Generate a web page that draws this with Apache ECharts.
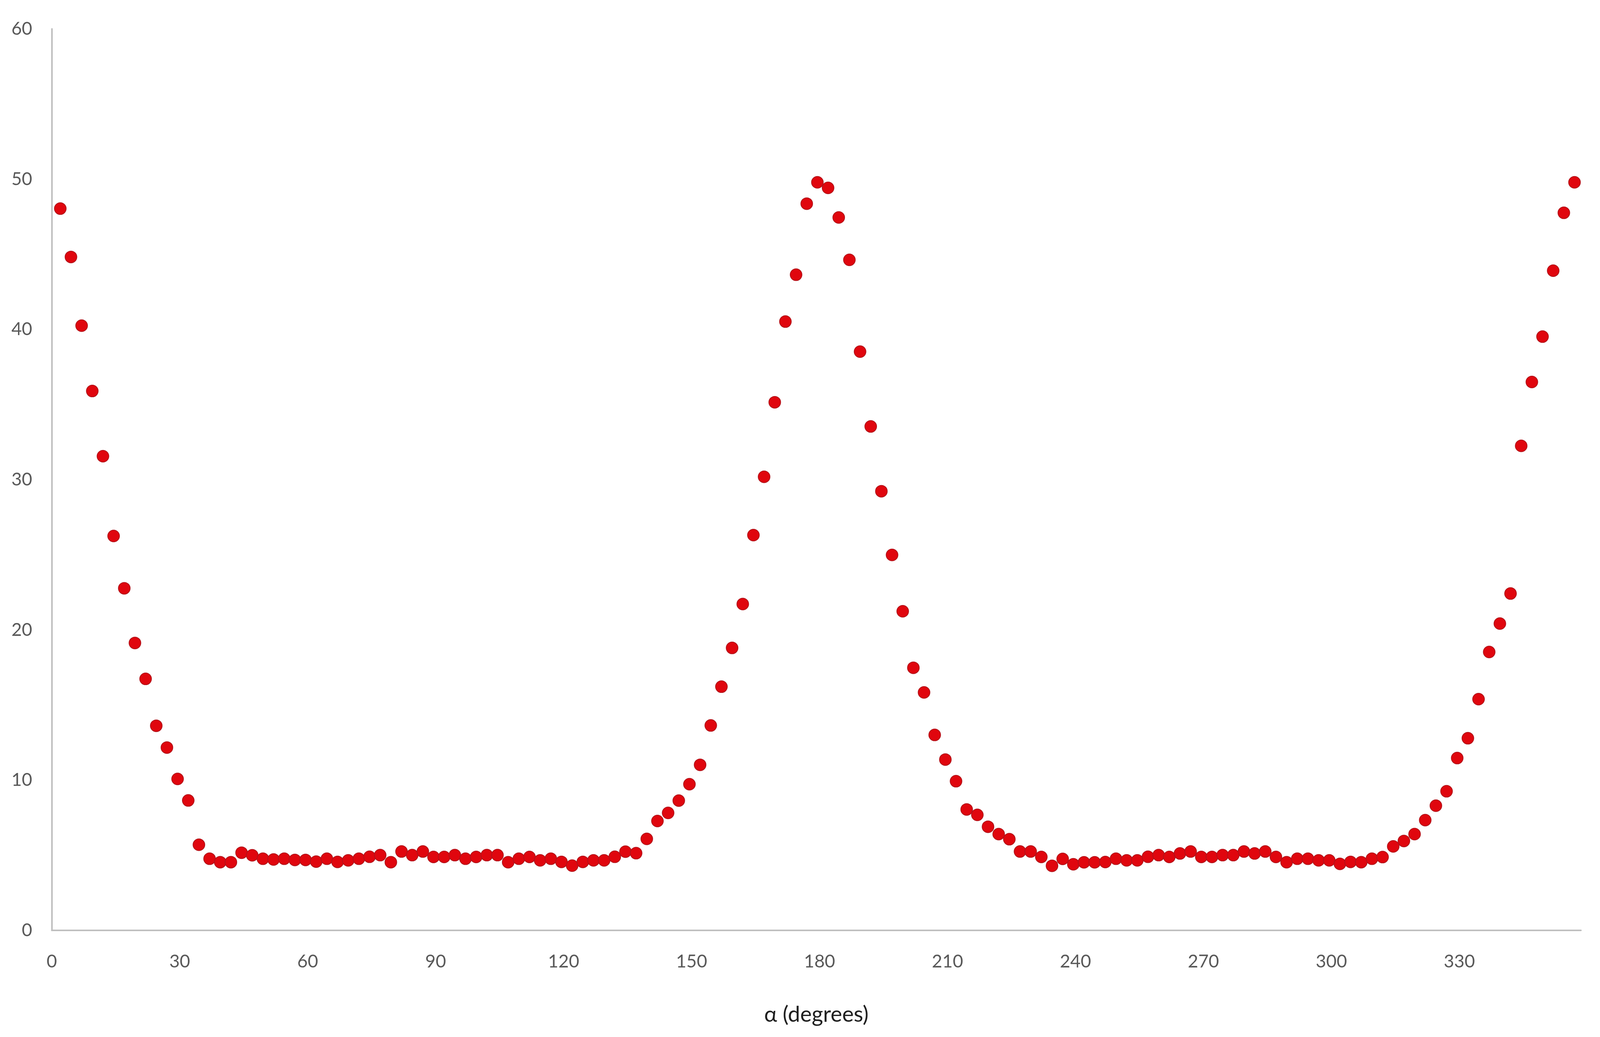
<!DOCTYPE html>
<html>
<head>
<meta charset="utf-8">
<script src="https://cdn.jsdelivr.net/npm/echarts@6/dist/echarts.min.js"></script>
<style>
html,body{margin:0;padding:0;background:#fff;overflow:hidden;width:100%;height:100%;}
#chart{position:absolute;left:0;top:0;width:100vw;height:100vh;}
</style>
</head>
<body>
<div id="chart"></div>
<script>
// α (degrees)
const alphaDeg = [
  2, 4.5, 7, 9.5, 12, 14.5, 17, 19.5, 22, 24.5, 27, 29.5, 32, 34.5, 37, 39.5, 42, 44.5, 47, 49.5,
  52, 54.5, 57, 59.5, 62, 64.5, 67, 69.5, 72, 74.5, 77, 79.5, 82, 84.5, 87, 89.5, 92, 94.5, 97, 99.5,
  102, 104.5, 107, 109.5, 112, 114.5, 117, 119.5, 122, 124.5, 127, 129.5, 132, 134.5, 137, 139.5, 142, 144.5, 147, 149.5,
  152, 154.5, 157, 159.5, 162, 164.5, 167, 169.5, 172, 174.5, 177, 179.5, 182, 184.5, 187, 189.5, 192, 194.5, 197, 199.5,
  202, 204.5, 207, 209.5, 212, 214.5, 217, 219.5, 222, 224.5, 227, 229.5, 232, 234.5, 237, 239.5, 242, 244.5, 247, 249.5,
  252, 254.5, 257, 259.5, 262, 264.5, 267, 269.5, 272, 274.5, 277, 279.5, 282, 284.5, 287, 289.5, 292, 294.5, 297, 299.5,
  302, 304.5, 307, 309.5, 312, 314.5, 317, 319.5, 322, 324.5, 327, 329.5, 332, 334.5, 337, 339.5, 342, 344.5, 347, 349.5,
  352, 354.5, 357
];
// measured values
const measured = [
  48.04, 44.82, 40.25, 35.90, 31.56, 26.25, 22.77, 19.13, 16.74, 13.62, 12.17, 10.08, 8.65, 5.70, 4.77, 4.54, 4.54, 5.17, 5.00, 4.77,
  4.72, 4.77, 4.69, 4.69, 4.58, 4.77, 4.56, 4.66, 4.77, 4.90, 5.01, 4.54, 5.25, 5.01, 5.25, 4.89, 4.89, 5.01, 4.77, 4.89,
  5.01, 5.01, 4.54, 4.77, 4.89, 4.66, 4.77, 4.56, 4.31, 4.56, 4.66, 4.66, 4.90, 5.24, 5.14, 6.09, 7.28, 7.82, 8.64, 9.73,
  11.02, 13.64, 16.22, 18.80, 21.72, 26.31, 30.19, 35.15, 40.52, 43.64, 48.37, 49.79, 49.42, 47.45, 44.63, 38.52, 33.54, 29.23, 24.99, 21.24,
  17.48, 15.84, 13.01, 11.37, 9.93, 8.05, 7.69, 6.90, 6.41, 6.07, 5.25, 5.25, 4.89, 4.30, 4.76, 4.40, 4.53, 4.53, 4.55, 4.77,
  4.66, 4.66, 4.90, 5.01, 4.89, 5.12, 5.25, 4.89, 4.89, 5.01, 5.01, 5.25, 5.12, 5.25, 4.89, 4.54, 4.77, 4.77, 4.66, 4.66,
  4.43, 4.56, 4.54, 4.77, 4.88, 5.59, 5.95, 6.41, 7.34, 8.30, 9.26, 11.47, 12.79, 15.39, 18.53, 20.42, 22.42, 32.25, 36.50, 39.52,
  43.91, 47.76, 49.79
];
const xAxisTitle = 'α (degrees)';

const points = alphaDeg.map((x, i) => [x, measured[i]]);

const el = document.getElementById('chart');
const chart = echarts.init(el, null, {renderer: 'canvas'});
const font = 'Lato, "Open Sans", sans-serif';
chart.setOption({
  animation: false,
  backgroundColor: '#ffffff',
  grid: {left: '3.235%', right: '1.193%', top: '2.787%', bottom: '10.28%', containLabel: false},
  xAxis: {
    type: 'value',
    min: 0,
    max: 358.5,
    interval: 30,
    name: xAxisTitle,
    nameLocation: 'middle',
    nameGap: 188,
    nameTextStyle: {fontFamily: font, fontSize: 56, color: '#1f1f1f'},
    axisLine: {show: true, onZero: false, lineStyle: {color: '#BFBFBF', width: 4}},
    axisTick: {show: false},
    splitLine: {show: false},
    axisLabel: {fontFamily: font, fontSize: 46, color: '#595959', margin: 57, showMaxLabel: false}
  },
  yAxis: {
    type: 'value',
    min: 0,
    max: 60,
    interval: 10,
    axisLine: {show: true, lineStyle: {color: '#BFBFBF', width: 4}},
    axisTick: {show: false},
    splitLine: {show: false},
    axisLabel: {fontFamily: font, fontSize: 46, color: '#595959', margin: 50}
  },
  series: [{
    type: 'scatter',
    data: points,
    symbol: 'circle',
    symbolSize: 30,
    itemStyle: {color: '#E0060E', borderColor: '#B3121A', borderWidth: 2, opacity: 1}
  }]
});
window.addEventListener('resize', () => chart.resize());
</script>
</body>
</html>
